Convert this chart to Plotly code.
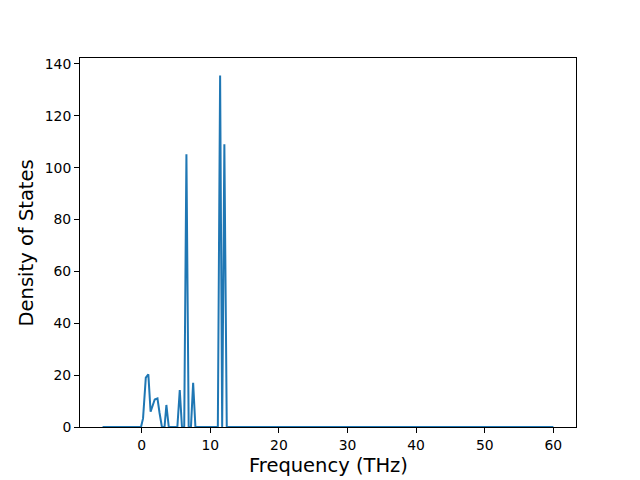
import plotly.graph_objects as go

freq = [-5.7, -0.1, 0.2, 0.6, 0.97, 1.3, 1.9, 2.3, 2.6, 2.95, 3.33, 3.6, 3.95,
        5.2, 5.55, 5.87, 6.2, 6.52, 6.85, 7.18, 7.5, 7.83, 11.1, 11.43, 11.73,
        12.05, 12.4, 60.0]
dos = [0, 0, 3.3, 19.0, 20.3, 5.9, 10.6, 11.0, 5.5, 0, 0, 8.5, 0,
       0, 14.2, 0, 0, 105.2, 0, 0, 17.0, 0, 0, 135.5, 0,
       109.0, 0, 0]

x_ticks = [0, 10, 20, 30, 40, 50, 60]
y_ticks = [0, 20, 40, 60, 80, 100, 120, 140]

fig = go.Figure()
fig.add_trace(go.Scatter(x=freq, y=dos, mode="lines",
                         line=dict(color="#1f77b4", width=2), showlegend=False))

axis_common = dict(showline=True, linecolor="black", linewidth=1, mirror=True,
                   ticks="outside", ticklen=5, tickwidth=1, tickcolor="black",
                   showgrid=False, zeroline=False, automargin=False,
                   tickfont=dict(family="DejaVu Sans", size=13.9, color="black"))

fig.update_layout(
    width=640, height=480,
    margin=dict(l=80, r=64, t=58, b=53),
    paper_bgcolor="white", plot_bgcolor="white",
    xaxis=dict(range=[-8.99, 63.3], tickvals=x_ticks, **axis_common),
    yaxis=dict(range=[0, 142.3], tickvals=y_ticks, **axis_common),
    annotations=[
        dict(text="Frequency (THz)", xref="paper", yref="paper", x=0.5, y=-0.103,
             xanchor="center", yanchor="middle", showarrow=False,
             font=dict(family="DejaVu Sans", size=19.5, color="black")),
        dict(text="Density of States", xref="paper", yref="paper", x=-0.107, y=0.5,
             xanchor="center", yanchor="middle", showarrow=False, textangle=-90,
             font=dict(family="DejaVu Sans", size=19.5, color="black")),
    ],
)

fig.write_html("out.html", config={"displayModeBar": False},
               post_script="document.body.style.margin='0';document.body.style.padding='0';")
